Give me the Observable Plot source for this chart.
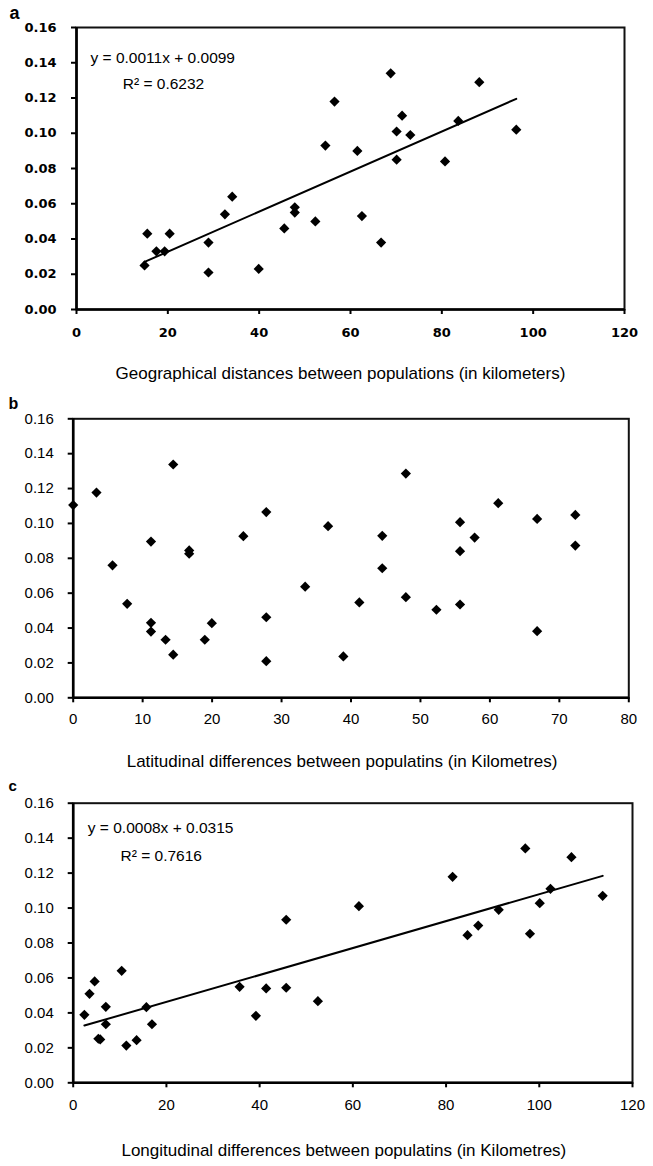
<!DOCTYPE html>
<html><head><meta charset="utf-8">
<script src="https://cdn.jsdelivr.net/npm/d3@7"></script>
<script src="https://cdn.jsdelivr.net/npm/@observablehq/plot@0.6"></script>
<style>
body{margin:0;background:#fff;}
#wrap{position:relative;width:653px;height:1166px;background:#fff;}
.panel{position:absolute;left:0;}
</style></head><body><div id="wrap"></div>
<script>
// ---- data ----
const yTicks = [0, 0.02, 0.04, 0.06, 0.08, 0.10, 0.12, 0.14, 0.16];
const xTicksA = [0, 20, 40, 60, 80, 100, 120];
const xTicksB = [0, 10, 20, 30, 40, 50, 60, 70, 80];
const xTicksC = [0, 20, 40, 60, 80, 100, 120];

// panel a: geographical distance vs genetic distance
const geoDist = [14.9,15.5,17.5,19.3,20.4,28.9,28.9,32.5,34.1,39.9,45.5,47.8,47.8,52.3,54.5,56.5,61.5,62.5,66.7,68.8,70.1,71.3,70.1,73.1,80.7,83.6,88.2,96.3];
const fstA    = [0.025,0.043,0.033,0.033,0.043,0.038,0.021,0.054,0.064,0.023,0.046,0.058,0.055,0.050,0.093,0.118,0.090,0.053,0.038,0.134,0.101,0.110,0.085,0.099,0.084,0.107,0.129,0.102];

// panel b: latitudinal differences
const latDiff = [0,3.35,5.66,7.77,11.2,11.2,11.2,13.3,14.4,14.4,16.7,16.7,18.95,19.96,24.5,27.8,27.8,27.8,33.4,36.7,38.9,41.2,44.5,44.5,47.9,47.9,52.3,55.7,55.7,55.7,57.8,61.2,66.8,66.8,72.3,72.3];
const fstB    = [0.1105,0.1177,0.076,0.0539,0.0896,0.043,0.038,0.0333,0.1338,0.0247,0.0845,0.0826,0.0333,0.0428,0.0927,0.1065,0.0462,0.021,0.0637,0.0984,0.0237,0.0547,0.0929,0.0743,0.1286,0.0577,0.0505,0.1007,0.0841,0.0535,0.0919,0.1116,0.1026,0.0382,0.1049,0.0873];

// panel c: longitudinal differences
const lonDiff = [2.4,3.5,4.6,5.4,5.8,7.0,7.0,10.4,11.4,13.6,15.7,16.9,35.7,39.2,41.4,45.7,45.7,52.5,61.3,81.4,84.6,86.9,91.3,97.0,98.0,100.1,102.4,106.9,113.6];
const fstC    = [0.0389,0.0509,0.058,0.0252,0.0248,0.0435,0.0335,0.0641,0.0213,0.0244,0.0433,0.0335,0.0549,0.0383,0.054,0.0933,0.0544,0.0467,0.1011,0.1179,0.0845,0.09,0.099,0.1341,0.0853,0.1028,0.111,0.1291,0.107];

const panelLetters = ["a", "b", "c"];
const axisTitles = [
  "Geographical distances between populations (in kilometers)",
  "Latitudinal differences between populatins (in Kilometres)",
  "Longitudinal differences between populatins (in Kilometres)"
];
const eqA = ["y = 0.0011x + 0.0099", "R\u00b2 = 0.6232"];
const eqC = ["y = 0.0008x + 0.0315", "R\u00b2 = 0.7616"];

// ---- drawing ----
const wrap = document.getElementById("wrap");
const toRows = (xs, ys) => xs.map((x, i) => ({x, y: ys[i]}));
const sans = "Liberation Sans, Arial, sans-serif";
const fmtY = d3.format(".2f");

function panel(o) {
  const rows = toRows(o.xs, o.ys);
  const tf = {fontSize: o.tickSize, fontFamily: o.tickFont, fontWeight: o.tickWeight, fill: "#000"};
  const marks = [
    Plot.frame({stroke: "#111", strokeWidth: 2}),
    Plot.ruleX([0], {stroke: "#000", strokeWidth: 2.6}),
    Plot.ruleY([0], {stroke: "#000", strokeWidth: 2.6}),
    // tick marks (outside the frame)
    Plot.ruleX(o.xTicks, {x: d => d, y1: 0, y2: 0, insetTop: 0, insetBottom: -5, stroke: "#000", strokeWidth: 2}),
    Plot.ruleY(yTicks, {y: d => d, x1: o.xDomain[0], x2: o.xDomain[0], insetLeft: -5, insetRight: 0, stroke: "#000", strokeWidth: 2}),
    // tick labels
    Plot.text(o.xTicks, {x: d => d, text: d => String(d), frameAnchor: "bottom", lineAnchor: "middle", textAnchor: "middle", dy: o.xLab, ...tf}),
    Plot.text(yTicks, {y: d => d, text: d => fmtY(d), frameAnchor: "left", lineAnchor: "middle", textAnchor: "end", dx: o.yLab, ...tf}),
  ];
  if (o.fit) marks.push(Plot.linearRegressionY(rows, {x: "x", y: "y", stroke: "#000", strokeWidth: 2, ci: 0}));
  marks.push(Plot.dot(rows, {x: "x", y: "y", symbol: "diamond2", r: 4.6, fill: "#000", stroke: "none"}));
  if (o.eq) {
    marks.push(Plot.text([o.eq[0]], {text: d => d, frameAnchor: "top-left", textAnchor: "start", lineAnchor: "bottom", dx: o.eqPos[0], dy: o.eqPos[1], fontSize: 15.5, fontWeight: "normal", fontFamily: sans, fill: "#000"}));
    marks.push(Plot.text([o.eq[1]], {text: d => d, frameAnchor: "top-left", textAnchor: "start", lineAnchor: "bottom", dx: o.eqPos[2], dy: o.eqPos[3], fontSize: 15.5, fontWeight: "normal", fontFamily: sans, fill: "#000"}));
  }
  marks.push(Plot.text([o.letter], {text: d => d, frameAnchor: "top-left", textAnchor: "start", lineAnchor: "bottom", dx: o.letterPos[0], dy: o.letterPos[1], fontSize: o.letterSize, fontWeight: "bold", fontFamily: sans, fill: "#000"}));
  marks.push(Plot.text([o.title], {text: d => d, frameAnchor: "bottom", textAnchor: "middle", lineAnchor: "bottom", dx: o.titlePos[0], dy: o.titlePos[1], fontSize: 17, fontWeight: "normal", fontFamily: sans, fill: "#000"}));

  const svg = Plot.plot({
    width: 653, height: o.height,
    marginLeft: o.m[0], marginRight: o.m[1], marginTop: o.m[2], marginBottom: o.m[3],
    style: {fontFamily: sans, fontSize: "15px", color: "#000", background: "transparent", overflow: "visible"},
    x: {domain: o.xDomain, axis: null},
    y: {domain: [0, 0.16], axis: null},
    marks
  });
  const div = document.createElement("div");
  div.className = "panel";
  div.style.top = o.top + "px";
  div.appendChild(svg);
  wrap.appendChild(div);
}

panel({
  top: 0, height: 385, m: [76, 29, 27, 76],
  xs: geoDist, ys: fstA, xDomain: [0, 120], xTicks: xTicksA, fit: true,
  tickFont: "DejaVu Sans, sans-serif", tickSize: 13, tickWeight: "bold", xLab: 23, yLab: -20,
  eq: eqA, eqPos: [14, 35.5, 46.3, 61],
  letter: panelLetters[0], letterPos: [-67, -9], letterSize: 18,
  title: axisTitles[0], titlePos: [-10, 69]
});
panel({
  top: 385, height: 390, m: [72.7, 24.7, 33.3, 77.7],
  xs: latDiff, ys: fstB, xDomain: [0, 80], xTicks: xTicksB, fit: false,
  tickFont: sans, tickSize: 15, tickWeight: "normal", xLab: 21, yLab: -19.4,
  letter: panelLetters[1], letterPos: [-64.7, -9.5], letterSize: 16,
  title: axisTitles[1], titlePos: [-9, 69.4]
});
panel({
  top: 775, height: 391, m: [72.7, 21, 27.7, 83.7],
  xs: lonDiff, ys: fstC, xDomain: [0, 120], xTicks: xTicksC, fit: true,
  tickFont: sans, tickSize: 15, tickWeight: "normal", xLab: 22.7, yLab: -19.4,
  eq: eqC, eqPos: [14.6, 29.8, 47.3, 57.3],
  letter: panelLetters[2], letterPos: [-64.7, -12.7], letterSize: 15,
  title: axisTitles[2], titlePos: [-9, 72.7]
});
</script></body></html>
